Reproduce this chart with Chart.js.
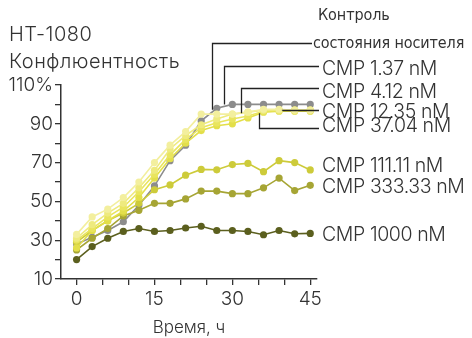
<!DOCTYPE html>
<html>
<head>
<meta charset="utf-8">
<script src="https://cdn.jsdelivr.net/npm/chart.js@4.4.0/dist/chart.umd.min.js"></script>
<style>
  html, body { margin: 0; padding: 0; background: #fff; }
  #wrap { width: 472px; height: 338px; }
</style>
</head>
<body>
<div id="wrap"><canvas id="c" width="472" height="338"></canvas></div>
<script>
// time points, hours
const hours = [0, 3, 6, 9, 12, 15, 18, 21, 24, 27, 30, 33, 36, 39, 42, 45];

// confluence, %
const vehicle = [28, 31.5, 35, 39.5, 48, 58, 71, 79, 91.5, 98, 100, 100, 100, 100, 100, 100];
const cmp1_37 = [33, 42, 46, 52, 60, 70, 79, 86, 95, 95, 95, 96, 97.5, 97.5, 97, 97];
const cmp4_12 = [31, 38, 44, 49, 57, 66, 77, 84, 89.5, 92.5, 95, 96, 97, 97, 97, 97];
const cmp12_35 = [30, 36, 42, 47, 55, 64, 74, 82, 88, 90.5, 92.5, 94, 96.5, 97, 97, 97];
const cmp37_04 = [26, 35, 40, 45, 52, 62, 72, 80, 86.5, 89, 90, 93, 96, 96.5, 96.5, 96.5];
const cmp111_11 = [29, 35, 40, 44, 49, 56, 58.5, 63.5, 66.5, 66.3, 69, 69.6, 65.3, 71, 70, 66.2];
const cmp333_33 = [25, 31, 36, 42.5, 45.4, 49, 49, 51.3, 55.3, 55.3, 54, 54, 57, 62, 55.6, 58.3];
const cmp1000 = [20, 26.7, 31, 34.5, 36, 34.5, 35, 36.3, 37.2, 35, 35, 34.5, 32.8, 35, 33.3, 33.5];

const yTicks = [10, 20, 30, 40, 50, 60, 70, 80, 90, 100, 110];
const xTicks = [0, 5, 10, 15, 20, 25, 30, 35, 40, 45];

const series = [
  { name: "CMP 1.37 nM", values: cmp1_37, color: "#f3ef9e" },
  { name: "CMP 4.12 nM", values: cmp4_12, color: "#eeea7e" },
  { name: "CMP 12.35 nM", values: cmp12_35, color: "#e9e55e" },
  { name: "CMP 37.04 nM", values: cmp37_04, color: "#e3df4a" },
  { name: "CMP 111.11 nM", values: cmp111_11, color: "#cdcb3a" },
  { name: "CMP 333.33 nM", values: cmp333_33, color: "#a6a534" },
  { name: "CMP 1000 nM", values: cmp1000, color: "#5b5f1e" },
  { name: "Контроль состояния носителя", values: vehicle, color: "#8c8c8c" },
];

const textColor = "#333";
const font = "Inter";

// legend labels at right, with leader lines hooked to the curves
const labels = [
  { text: "Контроль", x: 318, y: 16, small: true },
  { text: "состояния носителя", x: 313, y: 44, small: true },
  { text: "CMP 1.37 nM", x: 322, y: 69 },
  { text: "CMP 4.12 nM", x: 322, y: 92 },
  { text: "CMP 12.35 nM", x: 322, y: 112 },
  { text: "CMP 37.04 nM", x: 322, y: 126 },
  { text: "CMP 111.11 nM", x: 322, y: 166 },
  { text: "CMP 333.33 nM", x: 322, y: 187 },
  { text: "CMP 1000 nM", x: 322, y: 235 },
];
// leaders: anchor point on the curve (data coords), then bend up/down to a pixel row
const leaders = [
  { t: 26.1, v: 97.2, row: 43, end: 312 },
  { t: 28.3, v: 100, row: 66, end: 319 },
  { t: 31.6, v: 95.5, row: 88, end: 319 },
  { t: 39.5, v: 96.8, row: 110, end: 319 },
  { t: 35.1, v: 95.5, row: 128, end: 319 },
];

const decor = {
  id: "decor",
  afterDatasetsDraw(chart) {
    const { ctx, scales } = chart;
    ctx.save();
    ctx.strokeStyle = "#222";
    ctx.lineWidth = 1.3;
    leaders.forEach((l) => {
      const px = Math.round(scales.x.getPixelForValue(l.t)) + 0.5;
      const py = scales.y.getPixelForValue(l.v);
      ctx.beginPath();
      ctx.moveTo(px, py);
      ctx.lineTo(px, l.row + 0.5);
      ctx.lineTo(l.end, l.row + 0.5);
      ctx.stroke();
    });
    ctx.restore();
  },
  afterDraw(chart) {
    const { ctx } = chart;
    ctx.save();
    ctx.fillStyle = textColor;
    ctx.textBaseline = "middle";
    ctx.textAlign = "left";
    ctx.font = `300 20px ${font}`;
    ctx.letterSpacing = "0.5px";
    ctx.fillText("HT-1080", 9, 35);
    ctx.fillText("Конфлюентность", 9, 62);
    labels.forEach((lb) => {
      if (lb.small) {
        ctx.font = `16px "DejaVu Sans Condensed", "DejaVu Sans"`;
        ctx.letterSpacing = "-0.1px";
      } else {
        ctx.font = `300 19.5px ${font}`;
        ctx.letterSpacing = "-0.4px";
      }
      ctx.fillText(lb.text, lb.x, lb.y);
    });
    ctx.restore();
  },
};

new Chart(document.getElementById("c"), {
  type: "line",
  data: {
    datasets: series.map((s) => ({
      label: s.name,
      data: hours.map((h, i) => ({ x: h, y: s.values[i] })),
      borderColor: s.color,
      backgroundColor: s.color,
      borderWidth: 1.6,
      pointRadius: 3.6,
      pointBorderWidth: 0,
      tension: 0,
    })),
  },
  options: {
    responsive: false,
    animation: false,
    layout: { padding: { top: 85, right: 155, left: 0, bottom: 0 } },
    plugins: { legend: { display: false }, tooltip: { enabled: false } },
    scales: {
      x: {
        type: "linear",
        min: -3,
        max: 46.3,
        afterBuildTicks: (s) => { s.ticks = xTicks.map((v) => ({ value: v })); },
        afterFit: (s) => { s.height = 59; },
        grid: { display: true, drawOnChartArea: false, drawTicks: true, tickLength: 6, color: "#333", lineWidth: 1.3 },
        border: { display: true, color: "#333", width: 1.5 },
        ticks: {
          autoSkip: false,
          maxRotation: 0,
          padding: 3,
          color: textColor,
          font: { family: font, size: 19, weight: 300 },
          callback: (v) => (v % 15 === 0 ? String(v) : ""),
        },
        title: {
          display: true,
          text: "Время, ч",
          color: textColor,
          font: { family: font, size: 17, weight: 300 },
          padding: { top: 4, bottom: 0 },
        },
      },
      y: {
        min: 10,
        max: 110,
        afterBuildTicks: (s) => { s.ticks = yTicks.map((v) => ({ value: v })); },
        afterFit: (s) => { s.width = 61; },
        grid: { display: true, drawOnChartArea: false, drawTicks: true, tickLength: 6, color: "#333", lineWidth: 1.3 },
        border: { display: true, color: "#333", width: 1.5 },
        ticks: {
          autoSkip: false,
          padding: 2,
          color: textColor,
          font: { family: font, size: 19, weight: 300 },
          callback: (v) => (v === 110 ? "110%" : v % 20 === 10 ? String(v) : ""),
        },
      },
    },
  },
  plugins: [decor],
});
</script>
</body>
</html>
